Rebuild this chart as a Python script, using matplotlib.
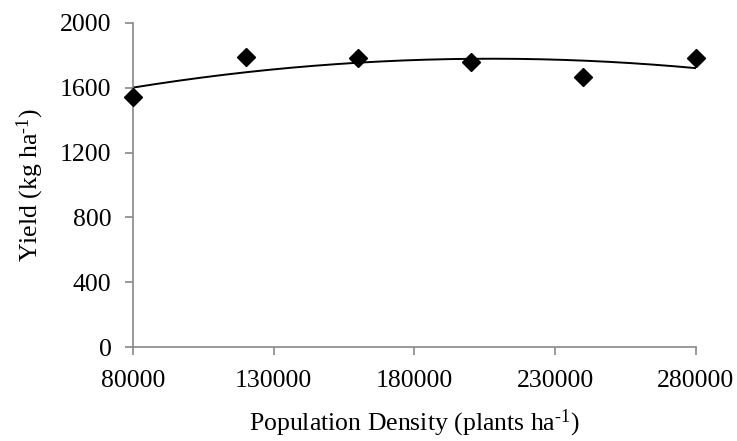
import numpy as np
import matplotlib.pyplot as plt

# Population density (plants/ha) and grain yield (kg/ha)
density = [80000, 120000, 160000, 200000, 240000, 280000]
yield_kg = [1540, 1787, 1782, 1757, 1667, 1785]

x_ticks = [80000, 130000, 180000, 230000, 280000]
y_ticks = [0, 400, 800, 1200, 1600, 2000]

plt.rcParams['font.family'] = 'Liberation Serif'
plt.rcParams['mathtext.fontset'] = 'custom'
plt.rcParams['mathtext.rm'] = 'Liberation Serif'
plt.rcParams['mathtext.it'] = 'Liberation Serif'

fig = plt.figure(figsize=(7.37, 4.41), dpi=100)
ax = fig.add_axes([0.1805, 0.213, 0.7635, 0.735])

# quadratic trendline, like Excel's poly(2)
coef = np.polyfit(density, yield_kg, 2)
xs = np.linspace(min(density), max(density), 200)
ax.plot(xs, np.polyval(coef, xs), color='black', lw=1.4, zorder=2)

ax.plot(density, yield_kg, linestyle='none', marker='D', markersize=9.5,
        color='black', zorder=3, clip_on=False)

ax.set_xlim(80000, 280000)
ax.set_ylim(0, 2000)
ax.set_xticks(x_ticks)
ax.set_yticks(y_ticks)
ax.tick_params(labelsize=18.5, length=5.5, width=1.2, color='#888888', direction='out')
ax.tick_params(axis='x', pad=11)
ax.tick_params(axis='y', pad=10)

for s in ['top', 'right']:
    ax.spines[s].set_visible(False)
for s in ['left', 'bottom']:
    ax.spines[s].set_color('#888888')
    ax.spines[s].set_linewidth(1.2)

ax.set_xlabel('Population Density (plants ha$^{\\mathregular{\u20101}}$)', fontsize=18.5, labelpad=11)
ax.set_ylabel('Yield (kg ha$^{\\mathregular{\u20101}}$)', fontsize=18.5, labelpad=10)

plt.savefig('out.png', dpi=100)
